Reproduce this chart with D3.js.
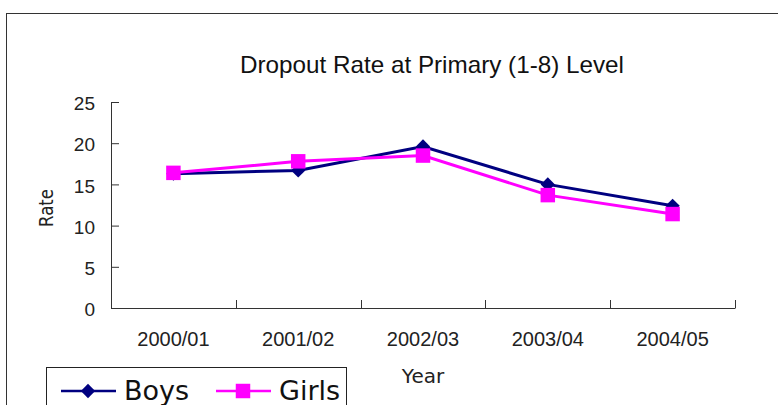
<!DOCTYPE html>
<html>
<head>
<meta charset="utf-8">
<script src="https://cdn.jsdelivr.net/npm/d3@7"></script>
<style>
  body { margin: 0; background: #fff; }
  svg { display: block; font-family: "DejaVu Sans", "Liberation Sans", sans-serif; }
</style>
</head>
<body>
<div id="chart"></div>
<script>
// data
var years = ["2000/01", "2001/02", "2002/03", "2003/04", "2004/05"];
var boys = [16.3, 16.7, 19.6, 15.0, 12.4];
var girls = [16.4, 17.8, 18.5, 13.7, 11.4];
var yTicks = [0, 5, 10, 15, 20, 25];
var seriesNames = ["Boys", "Girls"];

var width = 778,
    height = 405,
    plotLeft = 111, plotRight = 735,
    plotTop = 102, plotBottom = 308;

var svg = d3.select("#chart").append("svg")
    .attr("width", width)
    .attr("height", height);

// outer frame of the chart area
svg.append("rect")
    .attr("x", 6.5).attr("y", 13.5)
    .attr("width", 800).attr("height", 500)
    .attr("fill", "none")
    .attr("stroke", "#333")
    .attr("stroke-width", 1);

var x = d3.scaleBand().domain(years).range([plotLeft, plotRight]);
var y = d3.scaleLinear().domain([0, 25]).range([plotBottom, plotTop]);

// y axis, ticks pointing inward
var yAxis = svg.append("g")
    .attr("transform", "translate(" + plotLeft + ",0)")
    .call(d3.axisLeft(y).tickValues(yTicks).tickSize(-8).tickPadding(16));
yAxis.select(".domain").attr("stroke", "#333").attr("d", "M0.5," + plotTop + "V" + (plotBottom + 0.5));
yAxis.selectAll(".tick line").attr("stroke", "#333");
yAxis.selectAll("text")
    .attr("text-anchor", "end")
    .attr("dy", "0.4em")
    .style("font-size", "19px")
    .attr("fill", "#222");

// x axis, labels centred in bands, ticks at band edges
var xAxis = svg.append("g")
    .attr("transform", "translate(0," + plotBottom + ")")
    .call(d3.axisBottom(x).tickSize(0).tickPadding(24));
xAxis.select(".domain").attr("stroke", "#333").attr("d", "M" + plotLeft + ",0.5H" + (plotRight + 0.5));
xAxis.selectAll("text")
    .style("font-size", "20px")
    .attr("fill", "#222");

var edges = years.map(function (d) { return x(d); }).concat([x(years[years.length - 1]) + x.bandwidth()]);
svg.append("g").selectAll("line")
    .data(edges.slice(1))
    .enter().append("line")
    .attr("x1", function (d) { return Math.round(d) + 0.5; })
    .attr("x2", function (d) { return Math.round(d) + 0.5; })
    .attr("y1", plotBottom - 8)
    .attr("y2", plotBottom)
    .attr("stroke", "#333");

// titles
svg.append("text")
    .attr("x", 240).attr("y", 73)
    .attr("textLength", 384)
    .attr("lengthAdjust", "spacingAndGlyphs")
    .style("font-size", "24px")
    .style("font-family", "'Liberation Sans', Arial, sans-serif")
    .attr("fill", "#111")
    .text("Dropout Rate at Primary (1-8) Level");

svg.append("text")
    .attr("transform", "translate(53,208) rotate(-90)")
    .attr("text-anchor", "middle")
    .attr("textLength", 38)
    .attr("lengthAdjust", "spacingAndGlyphs")
    .style("font-size", "19px")
    .attr("fill", "#222")
    .text("Rate");

svg.append("text")
    .attr("x", 423).attr("y", 383)
    .attr("text-anchor", "middle")
    .style("font-size", "20px")
    .attr("fill", "#222")
    .text("Year");

var cx = function (d, i) { return x(years[i]) + x.bandwidth() / 2; };
var line = d3.line()
    .x(function (d, i) { return cx(d, i); })
    .y(function (d) { return y(d); });

var diamond = d3.symbol().type(d3.symbolDiamond2).size(130);
var square = d3.symbol().type(d3.symbolSquare).size(210);

// Boys
svg.append("path")
    .datum(boys)
    .attr("d", line)
    .attr("fill", "none")
    .attr("stroke", "#000080")
    .attr("stroke-width", 3);
svg.append("g").selectAll("path")
    .data(boys)
    .enter().append("path")
    .attr("d", diamond)
    .attr("transform", function (d, i) { return "translate(" + cx(d, i) + "," + y(d) + ")"; })
    .attr("fill", "#000080");

// Girls
svg.append("path")
    .datum(girls)
    .attr("d", line)
    .attr("fill", "none")
    .attr("stroke", "#ff00ff")
    .attr("stroke-width", 3);
svg.append("g").selectAll("path")
    .data(girls)
    .enter().append("path")
    .attr("d", square)
    .attr("transform", function (d, i) { return "translate(" + cx(d, i) + "," + y(d) + ")"; })
    .attr("fill", "#ff00ff");

// legend
var legend = svg.append("g");
legend.append("rect")
    .attr("x", 46.5).attr("y", 367.5)
    .attr("width", 300).attr("height", 60)
    .attr("fill", "#fff")
    .attr("stroke", "#222");

var legendItems = [
    { name: seriesNames[0], color: "#000080", sym: diamond, x0: 61 },
    { name: seriesNames[1], color: "#ff00ff", sym: square, x0: 216 }
];
legendItems.forEach(function (it) {
    legend.append("line")
        .attr("x1", it.x0).attr("x2", it.x0 + 55)
        .attr("y1", 391).attr("y2", 391)
        .attr("stroke", it.color)
        .attr("stroke-width", 2.5);
    legend.append("path")
        .attr("d", it.sym)
        .attr("transform", "translate(" + (it.x0 + 27) + ",391)")
        .attr("fill", it.color);
    legend.append("text")
        .attr("x", it.x0 + 63).attr("y", 400)
        .style("font-size", "27px")
        .attr("fill", "#111")
        .text(it.name);
});
</script>
</body>
</html>
